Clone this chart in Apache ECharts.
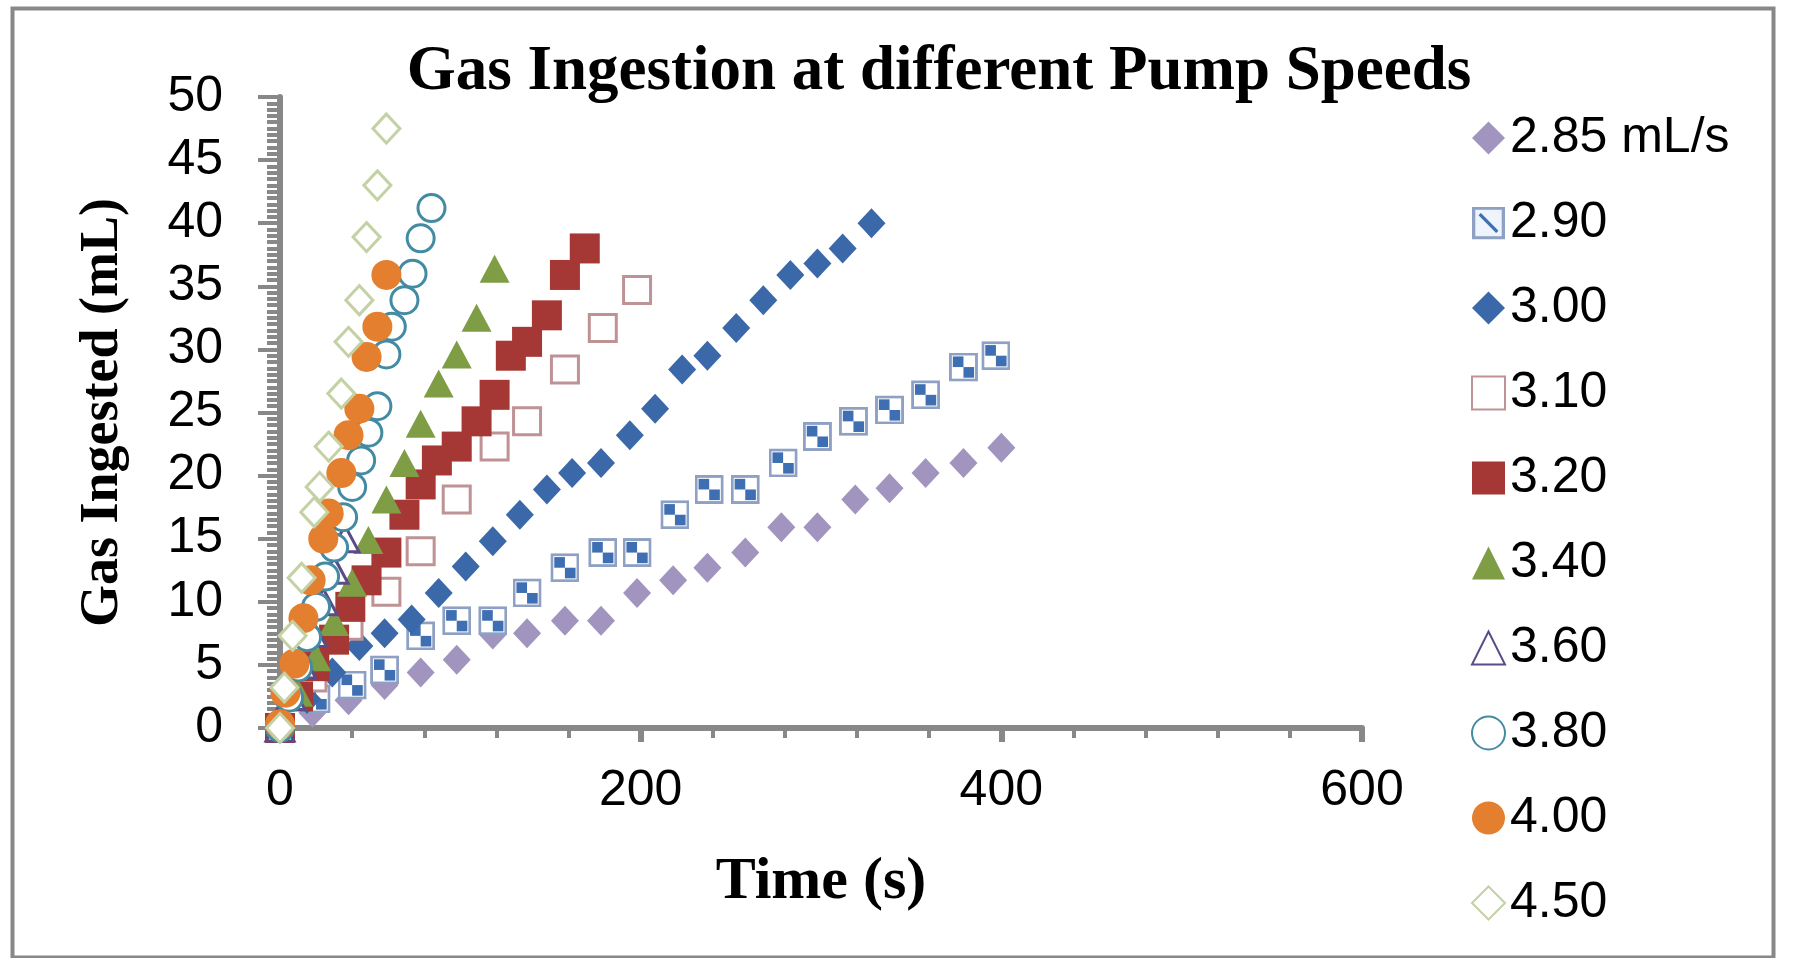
<!DOCTYPE html>
<html>
<head>
<meta charset="utf-8">
<script src="https://cdn.jsdelivr.net/npm/echarts@6/dist/echarts.min.js"></script>
<style>
html,body{margin:0;padding:0;background:#fff;}
#chart{width:1793px;height:958px;}
</style>
</head>
<body>
<div id="chart"></div>
<script>
// ---- data (time s, gas ingested mL) ----
const legendNames = ['2.85 mL/s','2.90','3.00','3.10','3.20','3.40','3.60','3.80','4.00','4.50'];
const xTickLabels = [0,200,400,600];
const yTickLabels = [0,5,10,15,20,25,30,35,40,45,50];

const t285 = [0,18,38,58,78,98,118,137,158,178,198,218,237,258,278,298,319,338,358,379,400];
const g285 = [0,1.2,2.2,3.4,4.4,5.4,7.4,7.5,8.5,8.5,10.7,11.7,12.7,13.9,15.9,15.9,18.1,19.0,20.2,21.0,22.2];

const t290 = [0,20,40,58,78,98,118,137,158,179,198,219,238,258,279,298,318,338,358,379,397];
const g290 = [0,2.3,3.4,4.6,7.3,8.5,8.5,10.7,12.7,13.9,13.9,16.9,18.9,18.9,21.0,23.1,24.3,25.2,26.4,28.6,29.5];

const t300 = [0,15,29,44,58,73,88,103,118,133,148,162,178,194,208,223,237,253,268,283,298,312,328];
const g300 = [0,2.3,4.4,6.5,7.5,8.6,10.7,12.8,14.8,16.9,18.9,20.2,21.0,23.2,25.3,28.4,29.5,31.7,33.9,35.9,36.8,38.0,40.0];

const t310 = [0,18,38,59,78,98,119,137,158,179,198];
const g310 = [0,4.0,8.1,10.8,14.0,18.1,22.3,24.3,28.4,31.7,34.7];

const t320 = [0,10,19,30,39,48,59,69,78,87,98,109,119,128,137,148,158,169];
const g320 = [0,2.5,4.9,7.0,9.6,11.7,13.9,16.9,19.3,21.2,22.3,24.3,26.4,29.5,30.6,32.7,35.9,38.0];

const t340 = [0,10,20,30,40,49,59,69,78,88,98,109,119];
const g340 = [0,2.8,5.6,8.4,11.5,14.9,18.1,21.0,24.1,27.3,29.6,32.5,36.4];

const t360 = [0,6,12,18,24,30,36];
const g360 = [0,2.5,5,7.5,10,12.5,15];

const t380 = [0,5,10,15,20,25,30,35,40,45,49,54,59,62,69,73.5,78,84];
const g380 = [0,2.4,4.8,7.2,9.6,12.0,14.3,16.7,19.1,21.2,23.4,25.5,29.6,31.8,33.9,36.0,38.8,41.2];

const t400 = [0,3,8,13,17,24,27,34,38,44,48,54,59];
const g400 = [0.3,2.8,5.1,8.7,11.7,15.0,17.0,20.2,23.2,25.3,29.4,31.8,35.9];

const t450 = [0,2.4,7,12,19,22,27,34,38,44,48,54,59];
const g450 = [0,3.2,7.3,11.9,17.1,19.1,22.3,26.5,30.6,33.9,38.9,43.0,47.5];

// ---- helpers ----
function pairs(xs, ys){ return xs.map((x,i)=>[x, ys[i]]); }
function svgUri(svg){ return 'image://data:image/svg+xml;charset=utf-8,' + encodeURIComponent(svg); }
const checkSym = svgUri("<svg xmlns='http://www.w3.org/2000/svg' width='30' height='30' viewBox='0 0 30 30'><rect x='1.5' y='1.5' width='27' height='27' fill='#ffffff' stroke='#8ea0c4' stroke-width='3'/><rect x='4' y='4' width='11' height='11' fill='#3e6fb3'/><rect x='15' y='15' width='11' height='11' fill='#3e6fb3'/></svg>");
const diagSym = svgUri("<svg xmlns='http://www.w3.org/2000/svg' width='30' height='30' viewBox='0 0 30 30'><rect x='1.5' y='1.5' width='27' height='27' fill='#eef4fb' stroke='#8ea0c4' stroke-width='3'/><line x1='7' y1='7' x2='23' y2='23' stroke='#3e6fb3' stroke-width='3'/></svg>");

const filled = (c)=>({color:c, opacity:1});
const hollow = (c)=>({color:'#ffffff', borderColor:c, borderWidth:3, opacity:1});

const seriesDefs = [
  {name:legendNames[0], xs:t285, ys:g285, symbol:'diamond', size:[28,30], style:filled('#a194be')},
  {name:legendNames[1], xs:t290, ys:g290, symbol:checkSym, size:29, style:filled('#3e6fb3')},
  {name:legendNames[2], xs:t300, ys:g300, symbol:'diamond', size:[28,30], style:filled('#3a68a8')},
  {name:legendNames[3], xs:t310, ys:g310, symbol:'rect', size:27, style:hollow('#bf9295')},
  {name:legendNames[4], xs:t320, ys:g320, symbol:'rect', size:30, style:filled('#a53835')},
  {name:legendNames[5], xs:t340, ys:g340, symbol:'triangle', size:[30,28], style:filled('#7f9d45')},
  {name:legendNames[6], xs:t360, ys:g360, symbol:'triangle', size:[28,26], style:hollow('#5b4b88')},
  {name:legendNames[7], xs:t380, ys:g380, symbol:'circle', size:27, style:hollow('#438ba3')},
  {name:legendNames[8], xs:t400, ys:g400, symbol:'circle', size:30, style:filled('#e37f2e')},
  {name:legendNames[9], xs:t450, ys:g450, symbol:'diamond', size:[27,29], style:hollow('#c3d1a4')}
];

const chart = echarts.init(document.getElementById('chart'), null, {renderer:'canvas'});
const option = {
  backgroundColor:'#ffffff',
  animation:false,
  title:{
    text:'Gas Ingestion at different Pump Speeds',
    left:934, top:36, textAlign:'center',
    textStyle:{fontFamily:'Liberation Serif', fontWeight:'bold', fontSize:63, color:'#000'}
  },
  legend:{
    orient:'vertical', left:1466, top:108, bottom:0,
    itemWidth:33, itemHeight:33, itemGap:35,
    textStyle:{fontFamily:'Liberation Sans', fontSize:50, color:'#000', lineHeight:50},
    data: legendNames.map((n,i)=> i===1 ? {name:n, icon:diagSym} : {name:n})
  },
  grid:{left:280, top:97, width:1082, height:631, containLabel:false},
  xAxis:{
    type:'value', min:xTickLabels[0], max:xTickLabels[xTickLabels.length-1], interval:200,
    name:'Time (s)', nameLocation:'middle', nameGap:124,
    nameTextStyle:{fontFamily:'Liberation Serif', fontWeight:'bold', fontSize:60, color:'#000'},
    axisLine:{lineStyle:{color:'#888888', width:6}},
    axisTick:{length:14, lineStyle:{color:'#888888', width:6}},
    minorTick:{show:true, splitNumber:5, length:10, lineStyle:{color:'#888888', width:4}},
    axisLabel:{fontFamily:'Liberation Sans', fontSize:50, color:'#000', margin:38},
    splitLine:{show:false}
  },
  yAxis:{
    type:'value', min:yTickLabels[0], max:yTickLabels[yTickLabels.length-1], interval:5,
    name:'Gas Ingested (mL)', nameLocation:'middle', nameGap:150,
    nameTextStyle:{fontFamily:'Liberation Serif', fontWeight:'bold', fontSize:54, color:'#000'},
    axisLine:{show:true, lineStyle:{color:'#888888', width:6}},
    axisTick:{show:true, length:22, lineStyle:{color:'#888888', width:4}},
    minorTick:{show:true, splitNumber:10, length:13, lineStyle:{color:'#888888', width:4}},
    axisLabel:{fontFamily:'Liberation Sans', fontSize:50, color:'#000', margin:57},
    splitLine:{show:false}
  },
  graphic:[{
    type:'rect', left:10, top:6, silent:true, z:-1,
    shape:{width:1761, height:949},
    style:{fill:'none', stroke:'#888888', lineWidth:4}
  }],
  series: seriesDefs.map(d=>({
    type:'scatter', name:d.name, data:pairs(d.xs, d.ys),
    symbol:d.symbol, symbolSize:d.size, itemStyle:d.style,
    emphasis:{disabled:true}
  }))
};
chart.setOption(option);
</script>
</body>
</html>
